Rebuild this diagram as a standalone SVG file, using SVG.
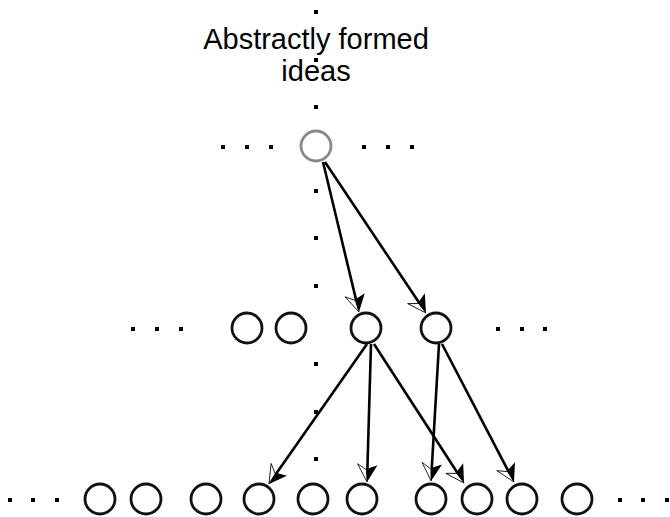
<svg xmlns="http://www.w3.org/2000/svg" width="670" height="517" viewBox="0 0 670 517">
  <style>
    .node { fill: #fff; stroke: #111; stroke-width: 2.8; }
    .top { fill: #fff; stroke: #888; stroke-width: 2.8; }
    .dot { fill: #000; }
    .edge { stroke: #000; stroke-width: 2.6; fill: none; marker-end: url(#split); }
    .label { font-family: "Liberation Sans", Arial, sans-serif; font-size: 29px; fill: #000; text-anchor: middle; }
  </style>
  <defs>
    <!-- half-filled arrowhead: black barb on one side, outlined white barb on the other -->
    <marker id="split" markerUnits="userSpaceOnUse" markerWidth="30" markerHeight="30" refX="0" refY="0" orient="auto" overflow="visible">
      <path d="M3,0 L-15,10 L-9,0.8 Z" fill="#fff" stroke="#000" stroke-width="0.8" stroke-linejoin="miter"/>
      <path d="M3,0 L-14,-10 L-10,0.8 Z" fill="#000"/>
    </marker>
  </defs>

  <rect width="670" height="517" fill="#fff"/>

  <!-- vertical dotted guide -->
  <g id="guide" class="dot">
    <rect x="314" y="10" width="4" height="4"/>
    <rect x="314" y="58" width="4" height="4"/>
    <rect x="314" y="105" width="4" height="4"/>
    <rect x="314" y="189" width="4" height="4"/>
    <rect x="314" y="236" width="4" height="4"/>
    <rect x="314" y="284" width="4" height="4"/>
    <rect x="314" y="362" width="4" height="4"/>
    <rect x="314" y="410" width="4" height="4"/>
    <rect x="314" y="457" width="4" height="4"/>
  </g>

  <g id="title">
    <text class="label" x="316" y="49">Abstractly formed</text>
    <text class="label" x="316" y="81">ideas</text>
  </g>

  <!-- ellipsis dots on each row -->
  <g id="ellipses" class="dot">
    <rect x="221" y="145" width="4" height="4"/>
    <rect x="245" y="145" width="4" height="4"/>
    <rect x="269" y="145" width="4" height="4"/>
    <rect x="362" y="145" width="4" height="4"/>
    <rect x="386" y="145" width="4" height="4"/>
    <rect x="410" y="145" width="4" height="4"/>

    <rect x="131" y="327" width="4" height="4"/>
    <rect x="155" y="327" width="4" height="4"/>
    <rect x="179" y="327" width="4" height="4"/>
    <rect x="496" y="327" width="4" height="4"/>
    <rect x="520" y="327" width="4" height="4"/>
    <rect x="543" y="327" width="4" height="4"/>

    <rect x="8" y="498" width="4" height="4"/>
    <rect x="31" y="498" width="4" height="4"/>
    <rect x="55" y="498" width="4" height="4"/>
    <rect x="618" y="498" width="4" height="4"/>
    <rect x="641" y="498" width="4" height="4"/>
    <rect x="665" y="498" width="4" height="4"/>
  </g>

  <!-- top level -->
  <g id="root"><circle class="top" cx="316" cy="146" r="15"/></g>

  <!-- middle level -->
  <g id="m1"><circle class="node" cx="247" cy="328" r="15"/></g>
  <g id="m2"><circle class="node" cx="291" cy="328" r="15"/></g>
  <g id="m3"><circle class="node" cx="366" cy="328" r="15"/></g>
  <g id="m4"><circle class="node" cx="436" cy="328" r="15"/></g>

  <!-- bottom level -->
  <g id="b1"><circle class="node" cx="100" cy="499" r="15"/></g>
  <g id="b2"><circle class="node" cx="146" cy="499" r="15"/></g>
  <g id="b3"><circle class="node" cx="206" cy="499" r="15"/></g>
  <g id="b4"><circle class="node" cx="259" cy="499" r="15"/></g>
  <g id="b5"><circle class="node" cx="313" cy="499" r="15"/></g>
  <g id="b6"><circle class="node" cx="362" cy="499" r="15"/></g>
  <g id="b7"><circle class="node" cx="431" cy="499" r="15"/></g>
  <g id="b8"><circle class="node" cx="477" cy="499" r="15"/></g>
  <g id="b9"><circle class="node" cx="522" cy="499" r="15"/></g>
  <g id="b10"><circle class="node" cx="577" cy="499" r="15"/></g>

  <g id="connectors">
    <line class="edge" x1="323" y1="162" x2="358.3" y2="309.1"/>
    <line class="edge" x1="325" y1="162" x2="424.3" y2="310.5"/>
    <line class="edge" x1="367" y1="344" x2="270.7" y2="481.5"/>
    <line class="edge" x1="371" y1="344" x2="367.1" y2="479"/>
    <line class="edge" x1="374" y1="344" x2="462.4" y2="480.5"/>
    <line class="edge" x1="439" y1="344" x2="431.2" y2="478"/>
    <line class="edge" x1="442" y1="344" x2="512.6" y2="479.3"/>
  </g>
</svg>
